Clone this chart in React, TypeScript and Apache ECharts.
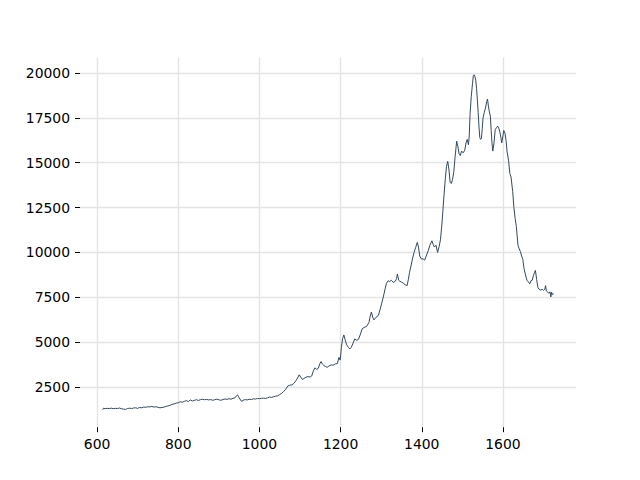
import React, { useEffect, useRef } from "react";
import * as echarts from "echarts";

const xValues: number[] = [
  614, 616, 620, 625, 630, 635, 640, 645, 650, 655, 660, 665, 670, 675, 680, 685, 690, 695, 700, 705,
  710, 715, 720, 725, 730, 735, 740, 745, 750, 755, 760, 765, 770, 775, 780, 785, 790, 795, 800, 805,
  810, 815, 820, 825, 830, 835, 840, 845, 850, 855, 860, 865, 870, 875, 880, 885, 890, 895, 900, 905,
  910, 915, 920, 925, 930, 935, 940, 943, 946, 949, 952, 956, 960, 965, 970, 975, 980, 985, 990, 995,
  1000, 1005, 1010, 1015, 1020, 1025, 1030, 1035, 1040, 1045, 1050, 1055, 1060, 1065, 1070, 1075, 1080, 1085, 1090, 1094,
  1098, 1102, 1106, 1110, 1115, 1120, 1125, 1129, 1133, 1137, 1141, 1145, 1149, 1152, 1155, 1159, 1163, 1167, 1172, 1177,
  1182, 1187, 1192, 1196, 1199, 1202, 1205, 1208, 1211, 1215, 1219, 1223, 1226, 1230, 1235, 1240, 1244, 1249, 1253, 1258,
  1264, 1270, 1273, 1276, 1279, 1282, 1287, 1293, 1297, 1301, 1304, 1307, 1310, 1313, 1317, 1321, 1325, 1330, 1335, 1338,
  1340, 1343, 1346, 1350, 1354, 1359, 1364, 1367, 1370, 1374, 1377, 1381, 1385, 1389, 1392, 1395, 1399, 1403, 1407, 1411,
  1416, 1420, 1425, 1428, 1431, 1435, 1439, 1443, 1446, 1449, 1452, 1455, 1458, 1461, 1464, 1467, 1470, 1473, 1476, 1479,
  1482, 1486, 1489, 1492, 1495, 1498, 1502, 1506, 1509, 1512, 1515, 1517, 1519, 1522, 1525, 1527, 1529, 1531, 1533, 1535,
  1537, 1539, 1541, 1543, 1545, 1547, 1549, 1551, 1554, 1557, 1560, 1562, 1564, 1566, 1569, 1571, 1573, 1575, 1578, 1581,
  1584, 1587, 1590, 1592, 1595, 1597, 1600, 1602, 1605, 1608, 1610, 1614, 1617, 1620, 1624, 1627, 1630, 1633, 1637, 1640,
  1643, 1646, 1649, 1652, 1655, 1659, 1663, 1666, 1669, 1672, 1675, 1678, 1680, 1683, 1686, 1689, 1693, 1697, 1700, 1703,
  1705, 1707, 1710, 1713, 1716, 1718, 1720, 1722, 1725,
];

const yValues: number[] = [
  1230, 1320, 1290, 1310, 1300, 1320, 1290, 1310, 1300, 1330, 1290, 1270, 1250, 1300, 1320, 1300, 1330, 1340, 1310, 1360,
  1340, 1380, 1370, 1400, 1390, 1420, 1380, 1400, 1370, 1340, 1360, 1380, 1420, 1450, 1480, 1530, 1560, 1600, 1620, 1680,
  1650, 1700, 1740, 1690, 1780, 1720, 1760, 1790, 1750, 1800, 1820, 1790, 1810, 1780, 1800, 1760, 1790, 1820, 1790, 1760,
  1800, 1830, 1810, 1850, 1820, 1870, 1900, 2000, 2060, 1950, 1830, 1700, 1760, 1800, 1780, 1820, 1800, 1840, 1830, 1860,
  1850, 1870, 1880, 1860, 1900, 1940, 1920, 1960, 1990, 2010, 2080, 2150, 2260, 2380, 2560, 2600, 2620, 2700, 2850, 3000,
  3180, 3050, 2920, 2980, 3050, 3080, 3060, 3120, 3400, 3570, 3480, 3540, 3800, 3920, 3780, 3690, 3640, 3600, 3680, 3730,
  3720, 3790, 3800, 4150, 4000, 4700, 5200, 5400, 5150, 4850, 4720, 4620, 4700, 4900, 5180, 5100, 5150, 5450, 5740, 5820,
  5870, 6100, 6450, 6680, 6400, 6240, 6380, 6480, 6800, 7130, 7400, 7690, 8000, 8280, 8420, 8380, 8450, 8330, 8400, 8550,
  8800, 8450, 8390, 8350, 8300, 8200, 8150, 8500, 8900, 9300, 9630, 10000, 10280, 10560, 10300, 9800, 9630, 9650, 9570, 9800,
  10100, 10400, 10650, 10450, 10300, 10400, 10000, 10350, 10700, 11400, 12300, 13240, 14100, 14800, 15080, 14600, 13900, 13850, 14080, 14500,
  15300, 16200, 15900, 15500, 15400, 15650, 15550, 15700, 16100, 16300, 16000, 16500, 17700, 18700, 19400, 19850, 19900, 19800, 19600, 19150,
  18500, 17800, 17000, 16400, 16300, 16350, 16900, 17500, 17800, 18050, 18400, 18550, 18200, 17900, 17600, 16800, 16100, 15650, 16100, 16850,
  16950, 17040, 16900, 16760, 16400, 16100, 16500, 16800, 16650, 16200, 15650, 15100, 14400, 14200, 13400, 12500, 11900, 11450, 10400, 10200,
  10050, 9800, 9600, 9100, 8800, 8450, 8350, 8250, 8420, 8450, 8700, 8900, 9000, 8500, 8050, 7950, 7900, 7950, 7880, 7950,
  8150, 7850, 7800, 7720, 7800, 7520, 7780, 7650, 7700,
];

const xTicks: number[] = [600, 800, 1000, 1200, 1400, 1600];
const yTicks: number[] = [2500, 5000, 7500, 10000, 12500, 15000, 17500, 20000];

export default function App() {
  const ref = useRef<HTMLDivElement>(null);
  useEffect(() => {
    if (!ref.current) return;
    const chart = echarts.init(ref.current, undefined, { renderer: "svg" });
    const font = "DejaVu Sans";
    const fmt = (v: number) => String(v);
    chart.setOption({
      animation: false,
      backgroundColor: "#ffffff",
      grid: { left: 80, right: 64, top: 57.6, bottom: 52.8, containLabel: false },
      xAxis: {
        type: "value",
        min: 558,
        max: 1780,
        axisLine: { show: false },
        axisTick: {
          show: true,
          inside: false,
          length: 5,
          customValues: xTicks,
          lineStyle: { color: "#000000", width: 1 },
        },
        axisLabel: {
          customValues: xTicks,
          formatter: fmt,
          margin: 10,
          fontSize: 13.9,
          fontFamily: font,
          color: "#000000",
        },
        splitLine: { show: true, lineStyle: { color: "#e4e4e4", width: 1.4 } },
      },
      yAxis: {
        type: "value",
        min: 260,
        max: 20858,
        axisLine: { show: false },
        axisTick: {
          show: true,
          inside: false,
          length: 5,
          customValues: yTicks,
          lineStyle: { color: "#000000", width: 1 },
        },
        axisLabel: {
          customValues: yTicks,
          formatter: fmt,
          margin: 10,
          fontSize: 13.9,
          fontFamily: font,
          color: "#000000",
        },
        splitLine: { show: true, lineStyle: { color: "#e4e4e4", width: 1.4 } },
      },
      series: [
        {
          type: "line",
          data: xValues.map((x, i) => [x, yValues[i]]),
          showSymbol: false,
          symbol: "none",
          lineStyle: { color: "#34495e", width: 1 },
        },
      ],
    });
    return () => chart.dispose();
  }, []);
  return (
    <div
      ref={ref}
      style={{ position: "fixed", left: 0, top: 0, width: 640, height: 480, background: "#fff" }}
    />
  );
}
